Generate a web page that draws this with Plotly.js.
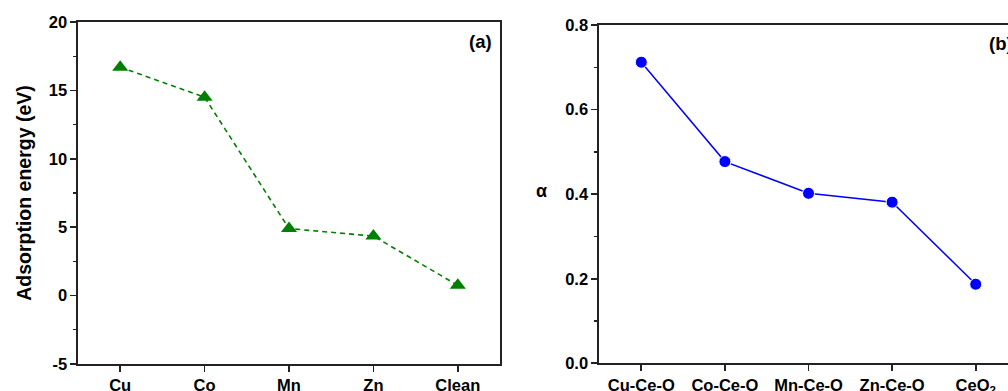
<!DOCTYPE html>
<html>
<head>
<meta charset="utf-8">
<script src="https://cdn.plot.ly/plotly-3.0.1.min.js"></script>
<style>html,body{margin:0;padding:0;background:#fff;}#chart{width:1008px;height:391px;}</style>
</head>
<body>
<div id="chart"></div>
<script>
const catsA = ['Cu', 'Co', 'Mn', 'Zn', 'Clean'];
const energyA = [16.7, 14.5, 4.9, 4.35, 0.75];
const catsB = ['Cu-Ce-O', 'Co-Ce-O', 'Mn-Ce-O', 'Zn-Ce-O', 'CeO<sub>2</sub>'];
const alphaB = [0.712, 0.477, 0.402, 0.381, 0.187];
const yTicksA = [-5, 0, 5, 10, 15, 20];
const yTicksB = [0.0, 0.2, 0.4, 0.6, 0.8];
const yTickTextB = ['0.0', '0.2', '0.4', '0.6', '0.8'];

const W = 1008, H = 391;
const fam = 'Liberation Sans, Arial, sans-serif';
const lineCol = '#222';

const traces = [
  {
    x: catsA.map((c, i) => i), y: energyA, type: 'scatter', mode: 'lines+markers',
    xaxis: 'x', yaxis: 'y',
    line: {color: '#008000', width: 1.6, dash: '5px,4px'},
    marker: {symbol: 'triangle-up', size: 14, color: '#008000'},
    hoverinfo: 'x+y', showlegend: false
  },
  {
    x: catsB.map((c, i) => i), y: alphaB, type: 'scatter', mode: 'lines+markers',
    xaxis: 'x2', yaxis: 'y2',
    line: {color: '#0000ff', width: 1.5},
    marker: {symbol: 'circle', size: 12, color: '#0000ff', line: {color: '#fff', width: 1}},
    hoverinfo: 'x+y', showlegend: false
  }
];

const axBase = {
  showline: true, linecolor: lineCol, linewidth: 1.6, showgrid: false, zeroline: false,
  ticks: 'outside', ticklen: 6, tickwidth: 1.6, tickcolor: lineCol,
  tickfont: {family: fam, size: 16.5, color: '#000', weight: 'bold'}, fixedrange: true
};

const layout = {
  width: W, height: H,
  margin: {l: 0, r: 0, t: 0, b: 0},
  paper_bgcolor: '#fff', plot_bgcolor: '#fff',
  font: {family: fam, size: 15, color: '#000'},
  xaxis: Object.assign({}, axBase, {
    domain: [78 / W, 500 / W], anchor: 'y', range: [-0.5, 4.5], mirror: true,
    tickmode: 'array', tickvals: catsA.map((c, i) => i), ticktext: catsA
  }),
  yaxis: Object.assign({}, axBase, {
    domain: [1 - 364 / H, 1 - 22 / H], anchor: 'x', range: [-5, 20], mirror: true,
    tickmode: 'array', tickvals: yTicksA, ticktext: yTicksA.map(String),
    minor: {dtick: 2.5, ticks: 'outside', ticklen: 3, tickwidth: 1.4, tickcolor: lineCol, showgrid: false},
    title: {text: 'Adsorption energy (eV)', standoff: 12, font: {family: fam, size: 19.5, color: '#000', weight: 'bold'}}
  }),
  xaxis2: Object.assign({}, axBase, {
    domain: [599 / W, 1], anchor: 'y2', range: [-0.506, 4.386], mirror: true,
    tickmode: 'array', tickvals: catsB.map((c, i) => i), ticktext: catsB
  }),
  yaxis2: Object.assign({}, axBase, {
    domain: [1 - 363.3 / H, 1 - 25 / H], anchor: 'x2', range: [0, 0.8], mirror: false,
    tickmode: 'array', tickvals: yTicksB, ticktext: yTickTextB,
    minor: {dtick: 0.1, ticks: 'outside', ticklen: 3, tickwidth: 1.4, tickcolor: lineCol, showgrid: false}
  }),
  annotations: [
    {text: '<b>(a)</b>', xref: 'paper', yref: 'paper', x: 494 / W, y: 1 - 42 / H,
     xanchor: 'right', yanchor: 'middle', showarrow: false, font: {family: fam, size: 18.5, color: '#000'}},
    {text: '<b>(b)</b>', xref: 'paper', yref: 'paper', x: 987 / W, y: 1 - 44 / H,
     xanchor: 'left', yanchor: 'middle', showarrow: false, font: {family: fam, size: 18.5, color: '#000'}},
    {text: '<b>α</b>', xref: 'paper', yref: 'paper', x: 541 / W, y: 1 - 191 / H,
     xanchor: 'center', yanchor: 'middle', showarrow: false, font: {family: fam, size: 18, color: '#000'}}
  ]
};

Plotly.newPlot('chart', traces, layout, {displayModeBar: false, staticPlot: true});
</script>
</body>
</html>
